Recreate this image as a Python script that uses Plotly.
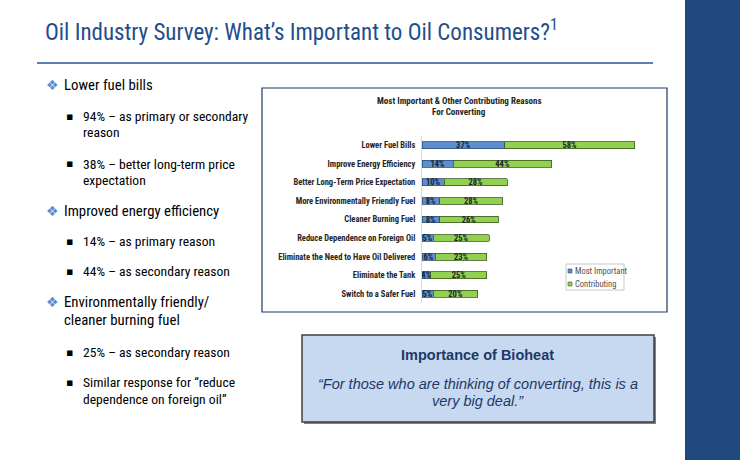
import plotly.graph_objects as go

W, H = 740, 460

REASONS = [
    "Lower Fuel Bills",
    "Improve Energy Efficiency",
    "Better Long-Term Price Expectation",
    "More Environmentally Friendly Fuel",
    "Cleaner Burning Fuel",
    "Reduce Dependence on Foreign Oil",
    "Eliminate the Need to Have Oil Delivered",
    "Eliminate the Tank",
    "Switch to a Safer Fuel",
]
MOST_IMPORTANT = [37, 14, 10, 8, 8, 5, 6, 4, 5]
CONTRIBUTING = [58, 44, 28, 28, 26, 25, 23, 25, 20]
SERIES = ["Most Important", "Contributing"]
COLORS = ["#5B8FD0", "#92D050"]
EDGES = ["#2E4E78", "#3E5A22"]

NARROW = "Roboto Condensed, Liberation Sans Narrow, Arial Narrow, sans-serif"
SANS = "Liberation Sans, Arial, sans-serif"
NAVY = "#1F497D"


def px(x):
    return x / W


def py(y):
    return 1 - y / H


fig = go.Figure()
for name, vals, col, edge in zip(SERIES, [MOST_IMPORTANT, CONTRIBUTING], COLORS, EDGES):
    fig.add_trace(go.Bar(y=REASONS, x=vals, name=name, orientation="h",
                         marker=dict(color=col, line=dict(color=edge, width=0.8)),
                         texttemplate="<b>%{x}%</b>", textposition="inside",
                         insidetextanchor="middle", constraintext="none",
                         textfont=dict(family=NARROW, size=8.5, color="#1a2630"),
                         showlegend=False))

# axis placement: zero at x=422, about 2.24 px per percent
x0, x1 = 422, 660
fig.update_layout(
    width=W, height=H, margin=dict(l=0, r=0, t=0, b=0),
    paper_bgcolor="white", plot_bgcolor="rgba(0,0,0,0)",
    barmode="stack", bargap=0.63,
    uniformtext=dict(minsize=7, mode="show"),
    xaxis=dict(domain=[px(x0), px(x1)], range=[0, (x1 - x0) / 2.239],
               visible=False, fixedrange=True),
    yaxis=dict(domain=[py(303), py(136)], autorange="reversed",
               showline=True, linecolor="#d9d9d9", linewidth=1,
               ticks="", ticklabelstandoff=4,
               tickfont=dict(family=NARROW, size=8.5, color="#262626", weight="bold")),
    font=dict(family=SANS),
)

shapes = [
    # right navy panel
    dict(type="rect", xref="paper", yref="paper", x0=px(685), x1=1, y0=0, y1=1,
         fillcolor=NAVY, line=dict(width=0), layer="below"),
    # title rule
    dict(type="line", xref="paper", yref="paper", x0=px(37), x1=px(653), y0=py(63), y1=py(63),
         line=dict(color="#5B7DB1", width=2)),
    # chart frame
    dict(type="rect", xref="paper", yref="paper", x0=px(262), x1=px(667), y0=py(312), y1=py(88),
         line=dict(color="#1F3864", width=1.2), layer="below"),
    # legend frame
    dict(type="rect", xref="paper", yref="paper", x0=px(566), x1=px(624), y0=py(290), y1=py(264),
         fillcolor="white", line=dict(color="#c8c8c8", width=1), layer="below"),
    # callout shadow + box
    dict(type="rect", xref="paper", yref="paper", x0=px(304), x1=px(656), y0=py(424), y1=py(337),
         fillcolor="#7f7f7f", line=dict(width=0), layer="below"),
    dict(type="rect", xref="paper", yref="paper", x0=px(302), x1=px(654), y0=py(422), y1=py(335),
         fillcolor="#C6D9F1", line=dict(color="#404040", width=1.5), layer="below"),
]
# legend swatches
for i, (col, edge) in enumerate(zip(COLORS, EDGES)):
    yc = 271 + i * 13
    shapes.append(dict(type="rect", xref="paper", yref="paper", x0=px(568), x1=px(572),
                       y0=py(yc + 2), y1=py(yc - 2), fillcolor=col,
                       line=dict(color=edge, width=0.6)))
fig.update_layout(shapes=shapes)


def note(x, y, text, size, color="black", anchor="left", family=SANS):
    fig.add_annotation(x=px(x), y=py(y), xref="paper", yref="paper", text=text,
                       showarrow=False, xanchor=anchor, yanchor="middle",
                       font=dict(family=family, size=size, color=color))


for i, name in enumerate(SERIES):
    note(573, 271 + i * 13, name, 8.5, "#505050", family=NARROW)

# slide title
note(43, 31, "Oil Industry Survey: What’s Important to Oil Consumers?<sup>1</sup>", 23,
     "#1F4E8C", family=NARROW)

# chart title
note(459, 101, "<b>Most Important & Other Contributing Reasons</b>", 9, "#262626", "center", NARROW)
note(459, 112, "<b>For Converting</b>", 9, "#262626", "center", NARROW)

# bullets
for y, t in [(85, "Lower fuel bills"), (211, "Improved energy efficiency"),
             (302, "Environmentally friendly/")]:
    note(44, y, "❖", 14, "#5B8BD0", family="DejaVu Sans")
    note(62, y, t, 14.8, family=NARROW)
note(62, 320, "cleaner burning fuel", 14.8, family=NARROW)

sub_points = [(116, "94% – as primary or secondary"), (164, "38% – better long-term price"),
              (241, "14% – as primary reason"), (271, "44% – as secondary reason"),
              (352, "25% – as secondary reason"), (382, "Similar response for “reduce")]
for y, t in sub_points:
    note(64, y, "▪", 11, family="DejaVu Sans")
    note(81, y, t, 13.6, family=NARROW)
for y, t in [(132, "reason"), (180, "expectation"), (399, "dependence on foreign oil”")]:
    note(81, y, t, 13.6, family=NARROW)

# callout text
note(478, 355, "<b>Importance of Bioheat</b>", 14.5, "#1F3864", "center")
note(478, 384, "<i>“For those who are thinking of converting, this is a</i>", 14.5, "#1F3864", "center")
note(478, 401, "<i>very big deal.”</i>", 14.5, "#1F3864", "center")

fig.write_html("out.html", config={"displayModeBar": False},
               post_script="document.body.style.margin='0';")
